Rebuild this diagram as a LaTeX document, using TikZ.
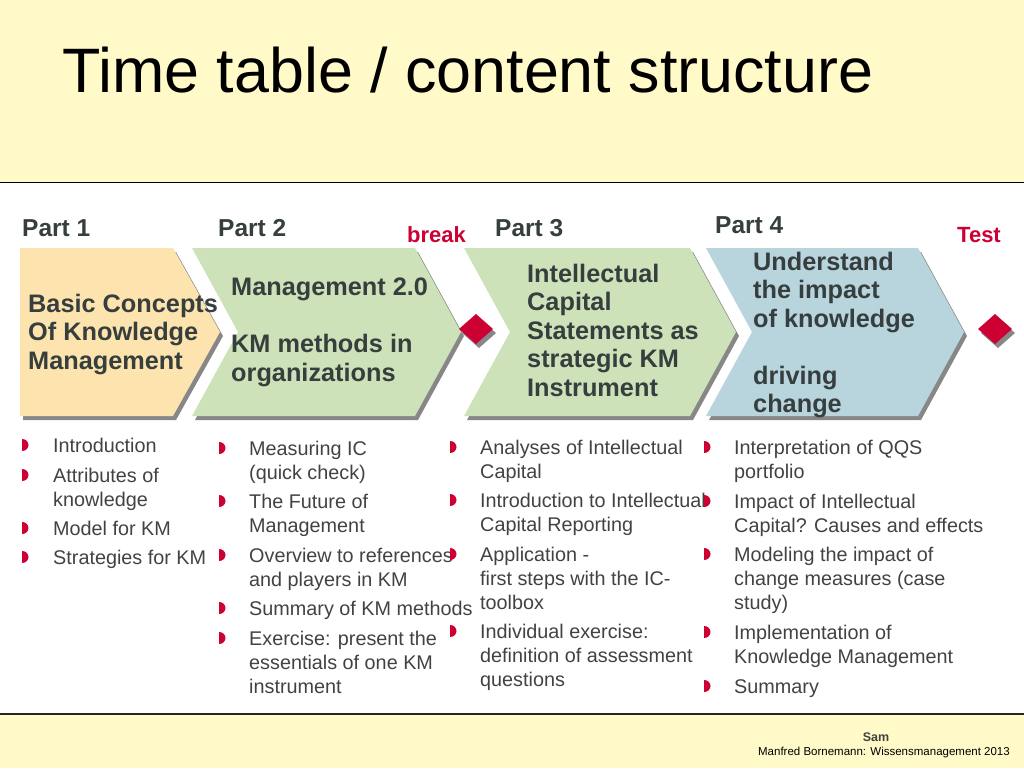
\documentclass[tikz,border=0pt]{standalone}
\usepackage{fontspec}
\setmainfont{Liberation Sans}
\usepackage{tikz}

\definecolor{headyellow}{RGB}{255,250,200}
\definecolor{kmred}{RGB}{204,0,51}
\definecolor{kmtext}{RGB}{54,62,62}
\definecolor{itemgray}{RGB}{66,66,66}
\definecolor{partorange}{RGB}{253,228,174}
\definecolor{partgreen}{RGB}{205,226,185}
\definecolor{partblue}{RGB}{184,212,221}
\definecolor{shadowgray}{RGB}{135,135,135}

% red half-disc bullet, centred on (x,y)
\newcommand\kmbullet[2]{\fill[kmred] (#1,#2-6) arc[start angle=90, end angle=-90, x radius=6.5pt, y radius=6pt] -- cycle;}

\begin{document}
\begin{tikzpicture}[x=1pt, y=-1pt,
    parthead/.style={anchor=base west, inner sep=0pt, font=\fontsize{24.5}{28}\selectfont\bfseries, text=kmtext},
    marker/.style={anchor=base west, inner sep=0pt, font=\fontsize{22}{24}\selectfont\bfseries, text=kmred},
    chevtext/.style={anchor=west, inner sep=0pt, align=left, font=\fontsize{25.3}{28.5}\selectfont\bfseries, text=kmtext},
    topic/.style={anchor=north west, inner sep=0pt, align=left, font=\fontsize{19.8}{24}\selectfont, text=itemgray}]

        \useasboundingbox (0,0) rectangle (1024,768);

        % header and footer
        \fill[headyellow] (0,0) rectangle (1024,182);
        \draw[black, line width=1pt] (0,182) -- (1024,182);
        \fill[headyellow] (0,714) rectangle (1024,768);
        \draw[black!85, line width=1.2pt] (0,714) -- (1024,714);

        \node[anchor=base west, inner sep=0pt, font=\fontsize{62.8}{70}\selectfont] (title) at (62,92) {Time table / content structure};

        \node[anchor=base, inner sep=0pt, font=\fontsize{12.5}{15}\selectfont\bfseries, text=itemgray] (sam) at (876,741) {Sam};
        \node[anchor=base east, inner sep=0pt, font=\fontsize{11.5}{14}\selectfont, text=black] (source) at (1010,755) {Manfred Bornemann: Wissensmanagement 2013};

        % part labels
        \node[parthead] (p1) at (22,236) {Part 1};
        \node[parthead] (p2) at (218,236) {Part 2};
        \node[marker] (break) at (407,242) {break};
        \node[parthead] (p3) at (495,236) {Part 3};
        \node[parthead] (p4) at (715,233) {Part 4};
        \node[marker] (test) at (957,242) {Test};

        % chevrons
        \fill[shadowgray, shift={(3,4)}] (20,248) -- (173,248) -- (220,332) -- (173,416) -- (20,416) -- cycle;
        \fill[partorange] (20,248) -- (173,248) -- (220,332) -- (173,416) -- (20,416) -- cycle;

        \fill[shadowgray, shift={(3,4)}] (192,248) -- (415,248) -- (461,332) -- (415,416) -- (192,416) -- (238,332) -- cycle;
        \fill[partgreen] (192,248) -- (415,248) -- (461,332) -- (415,416) -- (192,416) -- (238,332) -- cycle;

        \fill[shadowgray, shift={(3,4)}] (464,248) -- (690,248) -- (736,332) -- (690,416) -- (464,416) -- (510,332) -- cycle;
        \fill[partgreen] (464,248) -- (690,248) -- (736,332) -- (690,416) -- (464,416) -- (510,332) -- cycle;

        \fill[shadowgray, shift={(3,4)}] (706,248) -- (918,248) -- (964,332) -- (918,416) -- (706,416) -- (752,332) -- cycle;
        \fill[partblue] (706,248) -- (918,248) -- (964,332) -- (918,416) -- (706,416) -- (752,332) -- cycle;

        % diamonds
        \fill[shadowgray, shift={(3,4)}] (476,314) -- (493,329) -- (476,344) -- (459,329) -- cycle;
        \fill[kmred] (476,314) -- (493,329) -- (476,344) -- (459,329) -- cycle;
        \fill[shadowgray, shift={(3,4)}] (995,314) -- (1012,329) -- (995,344) -- (978,329) -- cycle;
        \fill[kmred] (995,314) -- (1012,329) -- (995,344) -- (978,329) -- cycle;

        \node[chevtext] (c1) at (28,334.5) {Basic Concepts\\Of Knowledge\\Management};
        \node[chevtext] (c2) at (231,332.5) {Management 2.0\\[28.5pt]KM methods in\\organizations};
        \node[chevtext] (c3) at (527,330) {Intellectual\\Capital\\Statements as\\strategic KM\\Instrument};
        \node[chevtext] (c4) at (753,335) {Understand\\the impact\\of knowledge\\[28.5pt]driving\\change};

        % part 1 topics
        \kmbullet{22}{445}
        \kmbullet{22}{475}
        \kmbullet{22}{528}
        \kmbullet{22}{557}
        \node[topic] (t11) at (53,438) {Introduction};
        \node[topic] (t12) at (53,468) {Attributes of\\knowledge};
        \node[topic] (t13) at (53,521) {Model for KM};
        \node[topic] (t14) at (53,550) {Strategies for KM};

        % part 2 topics
        \kmbullet{219}{448}
        \kmbullet{219}{501}
        \kmbullet{219}{555}
        \kmbullet{219}{608}
        \kmbullet{219}{638}
        \node[topic] (t21) at (249,441) {Measuring IC\\(quick check)};
        \node[topic] (t22) at (249,494) {The Future of\\Management};
        \node[topic] (t23) at (249,548) {Overview to references\\and players in KM};
        \node[topic] (t24) at (249,601) {Summary of KM methods};
        \node[topic] (t25) at (249,631) {Exercise: present the\\essentials of one KM\\instrument};

        % part 3 topics
        \kmbullet{450}{447}
        \kmbullet{450}{500}
        \kmbullet{450}{554}
        \kmbullet{450}{631}
        \node[topic] (t31) at (480,440) {Analyses of Intellectual\\Capital};
        \node[topic] (t32) at (480,493) {Introduction to Intellectual\\Capital Reporting};
        \node[topic] (t33) at (480,547) {Application -\\first steps with the IC-\\toolbox};
        \node[topic] (t34) at (480,624) {Individual exercise:\\definition of assessment\\questions};

        % part 4 topics
        \kmbullet{704}{447}
        \kmbullet{704}{501}
        \kmbullet{704}{554}
        \kmbullet{704}{632}
        \kmbullet{704}{686}
        \node[topic] (t41) at (734,440) {Interpretation of QQS\\portfolio};
        \node[topic] (t42) at (734,494) {Impact of Intellectual\\Capital? Causes and effects};
        \node[topic] (t43) at (734,547) {Modeling the impact of\\change measures (case\\study)};
        \node[topic] (t44) at (734,625) {Implementation of\\Knowledge Management};
        \node[topic] (t45) at (734,679) {Summary};

\end{tikzpicture}
\end{document}
